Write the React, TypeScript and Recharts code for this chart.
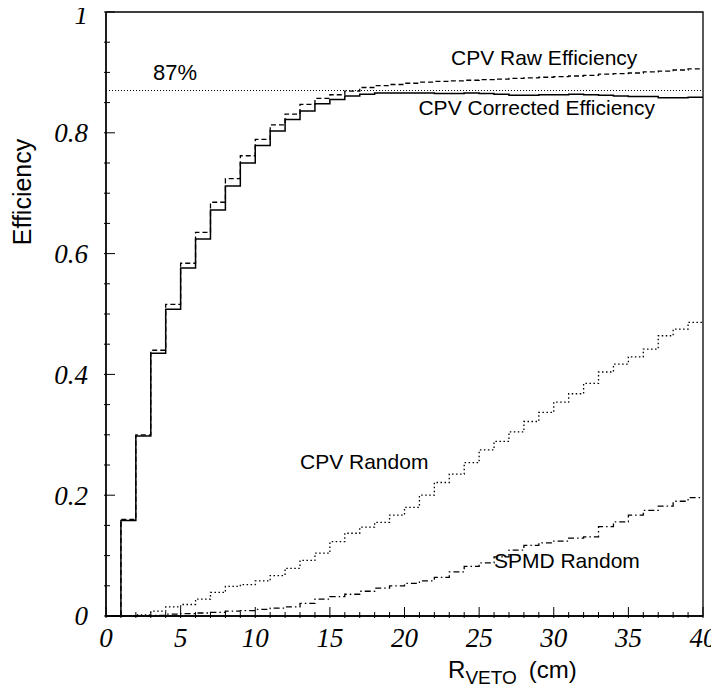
import { LineChart, Line, XAxis, YAxis, ReferenceLine, ReferenceArea, ReferenceDot, Label } from "recharts";

// bin lower edges (cm), 1 cm bins from 0 to 40
const R_EDGES = [
  0, 1, 2, 3, 4, 5, 6, 7, 8, 9, 10, 11, 12, 13, 14, 15, 16, 17, 18, 19,
  20, 21, 22, 23, 24, 25, 26, 27, 28, 29, 30, 31, 32, 33, 34, 35, 36, 37, 38, 39, 40,
];

const CORRECTED = [
  0, 0.158, 0.298, 0.435, 0.508, 0.576, 0.624, 0.672, 0.712, 0.75,
  0.779, 0.803, 0.822, 0.836, 0.848, 0.855, 0.861, 0.864, 0.866, 0.866,
  0.866, 0.866, 0.865, 0.865, 0.866, 0.865, 0.864, 0.862, 0.862, 0.863,
  0.863, 0.864, 0.863, 0.862, 0.861, 0.86, 0.86, 0.858, 0.858, 0.859,
];

const RAW = [
  0, 0.16, 0.3, 0.44, 0.516, 0.584, 0.635, 0.685, 0.724, 0.762,
  0.789, 0.813, 0.831, 0.847, 0.857, 0.863, 0.869, 0.875, 0.878, 0.88,
  0.882, 0.884, 0.885, 0.886, 0.887, 0.888, 0.889, 0.89, 0.891, 0.892,
  0.893, 0.894, 0.895, 0.897, 0.898, 0.899, 0.901, 0.902, 0.904, 0.906,
];

const CPV_RANDOM = [
  0, 0, 0.002, 0.008, 0.015, 0.019, 0.028, 0.039, 0.049, 0.052,
  0.058, 0.067, 0.079, 0.092, 0.104, 0.123, 0.137, 0.147, 0.155, 0.167,
  0.18, 0.2, 0.221, 0.235, 0.254, 0.275, 0.289, 0.305, 0.322, 0.337,
  0.354, 0.368, 0.385, 0.404, 0.417, 0.429, 0.442, 0.464, 0.475, 0.486,
];

const SPMD_RANDOM = [
  0, 0, 0, 0.001, 0.003, 0.004, 0.005, 0.006, 0.008, 0.009,
  0.011, 0.013, 0.015, 0.021, 0.028, 0.032, 0.036, 0.041, 0.046, 0.05,
  0.054, 0.058, 0.064, 0.073, 0.082, 0.088, 0.098, 0.109, 0.117, 0.121,
  0.124, 0.129, 0.131, 0.148, 0.156, 0.167, 0.175, 0.182, 0.19, 0.196,
];

const X_TICKS = R_EDGES;
const X_MAJOR = [0, 5, 10, 15, 20, 25, 30, 35, 40];
const Y_TICKS = [
  0, 0.05, 0.1, 0.15, 0.2, 0.25, 0.3, 0.35, 0.4, 0.45, 0.5,
  0.55, 0.6, 0.65, 0.7, 0.75, 0.8, 0.85, 0.9, 0.95, 1,
];
const Y_MAJOR = [0, 0.2, 0.4, 0.6, 0.8, 1];
const THRESHOLD = 0.87;

const nBins = CORRECTED.length;
const data = R_EDGES.map((r, i) => {
  const k = Math.min(i, nBins - 1);
  return { r, corrected: CORRECTED[k], raw: RAW[k], cpvRandom: CPV_RANDOM[k], spmdRandom: SPMD_RANDOM[k] };
});

const SERIF = "'Liberation Serif', 'Times New Roman', serif";
const SANS = "'Liberation Sans', Arial, sans-serif";

function YTick(props: any) {
  const { x, y, payload } = props;
  const major = Y_MAJOR.includes(payload.value);
  // top label would poke out of the page, nudge it down a bit
  const nudge = payload.value === 1 ? 3 : 0;
  return (
    <g>
      <line x1={x} x2={x + (major ? 11 : 6)} y1={y} y2={y} stroke="#000" strokeWidth={1} />
      {major && (
        <text x={x - 16} y={y + nudge} dy="0.35em" textAnchor="end" fontFamily={SERIF} fontStyle="italic" fontSize={27} fill="#000">
          {String(payload.value)}
        </text>
      )}
    </g>
  );
}

function XTick(props: any) {
  const { x, y, payload } = props;
  const major = X_MAJOR.includes(payload.value);
  return (
    <g>
      <line x1={x} x2={x} y1={y} y2={y - (major ? 11 : 6)} stroke="#000" strokeWidth={1} />
      {major && (
        <text x={x} y={y + 29} textAnchor="middle" fontFamily={SERIF} fontStyle="italic" fontSize={27} fill="#000">
          {String(payload.value)}
        </text>
      )}
    </g>
  );
}

const note = (value: string, size = 21) => ({
  value,
  position: "center" as const,
  fontFamily: SANS,
  fontSize: size,
  fill: "#000",
});

export default function App() {
  return (
    <div style={{ margin: "-8px 0 0 -8px", width: 719, height: 687 }}>
      <LineChart width={719} height={687} data={data} margin={{ top: 12, right: 16, left: 0, bottom: 11 }}>
        <XAxis
          dataKey="r"
          type="number"
          domain={[0, 40]}
          ticks={X_TICKS}
          interval={0}
          tick={<XTick />}
          tickLine={false}
          tickSize={0}
          axisLine={{ stroke: "#000", strokeWidth: 1.3 }}
          height={60}
        >
          <Label
            content={(p: any) => {
              const vb = p.viewBox;
              return (
                <text x={vb.x + vb.width * 0.573} y={vb.y + 62} fontFamily={SANS} fontSize={24} fill="#000">
                  <tspan>R</tspan>
                  <tspan fontSize={19} dy={6}>VETO</tspan>
                  <tspan dx={12} dy={-6}>(cm)</tspan>
                </text>
              );
            }}
          />
        </XAxis>
        <YAxis
          type="number"
          domain={[0, 1]}
          ticks={Y_TICKS}
          interval={0}
          tick={<YTick />}
          tickLine={false}
          tickSize={0}
          axisLine={{ stroke: "#000", strokeWidth: 1.3 }}
          width={106}
        >
          <Label
            content={(p: any) => {
              const vb = p.viewBox;
              const cx = vb.x + 22;
              const cy = vb.y + 180;
              return (
                <text x={cx} y={cy} transform={`rotate(-90 ${cx} ${cy})`} textAnchor="middle" dominantBaseline="central" fontFamily={SANS} fontSize={25} fill="#000">
                  Efficiency
                </text>
              );
            }}
          />
        </YAxis>
        <ReferenceArea x1={0} x2={40} y1={0} y2={1} fill="none" stroke="#000" strokeWidth={1.3} />
        <ReferenceLine y={THRESHOLD} stroke="#000" strokeWidth={1} strokeDasharray="1 2" />
        <Line dataKey="cpvRandom" type="stepAfter" stroke="#000" strokeWidth={1.3} strokeDasharray="1.5 2.5" dot={false} isAnimationActive={false} />
        <Line dataKey="spmdRandom" type="stepAfter" stroke="#000" strokeWidth={1.3} strokeDasharray="6 3 1.5 3" dot={false} isAnimationActive={false} />
        <Line dataKey="raw" type="stepAfter" stroke="#000" strokeWidth={1.3} strokeDasharray="5 3" dot={false} isAnimationActive={false} />
        <Line dataKey="corrected" type="stepAfter" stroke="#000" strokeWidth={1.5} dot={false} isAnimationActive={false} />
        <ReferenceDot x={4.62} y={0.9} r={0} fill="none" stroke="none" label={note("87%", 22)} />
        <ReferenceDot x={29.36} y={0.924} r={0} fill="none" stroke="none" label={note("CPV Raw Efficiency")} />
        <ReferenceDot x={28.86} y={0.841} r={0} fill="none" stroke="none" label={note("CPV Corrected Efficiency")} />
        <ReferenceDot x={17.3} y={0.2555} r={0} fill="none" stroke="none" label={note("CPV Random")} />
        <ReferenceDot x={30.88} y={0.0916} r={0} fill="none" stroke="none" label={note("SPMD Random")} />
      </LineChart>
    </div>
  );
}
